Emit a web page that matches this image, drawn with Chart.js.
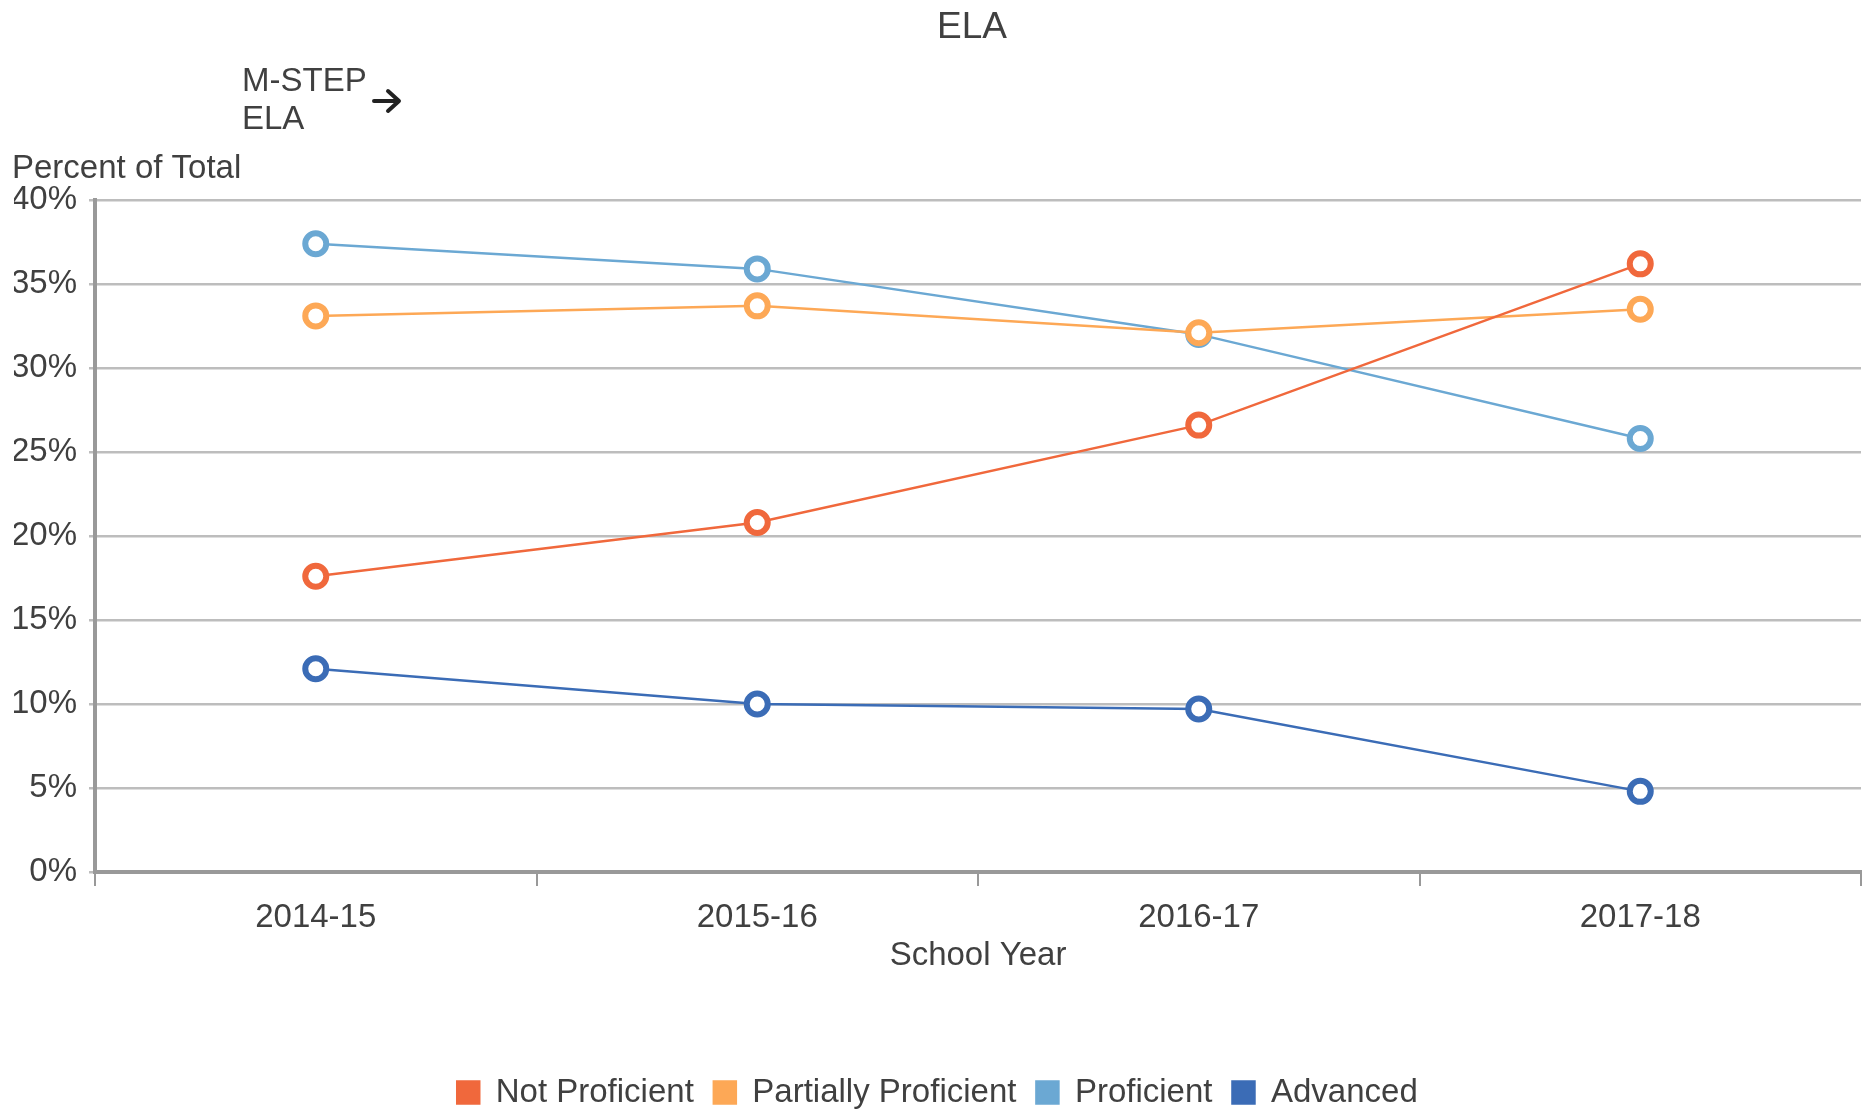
<!DOCTYPE html>
<html>
<head>
<meta charset="utf-8">
<title>ELA</title>
<script src="https://cdn.jsdelivr.net/npm/chart.js@4.4.1/dist/chart.umd.min.js"></script>
<style>
  html, body { margin: 0; padding: 0; background: #fff; }
  #wrap { width: 1868px; height: 1110px; }
</style>
</head>
<body>
<div id="wrap"><canvas id="chart" width="1868" height="1110"></canvas></div>
<script>
// values
const years = ['2014-15', '2015-16', '2016-17', '2017-18'];
const notProficient = [17.6, 20.8, 26.6, 36.2];
const partiallyProficient = [33.1, 33.7, 32.1, 33.5];
const proficient = [37.4, 35.9, 32.0, 25.8];
const advanced = [12.1, 10.0, 9.7, 4.8];
const yTicks = [0, 5, 10, 15, 20, 25, 30, 35, 40];

const chartTitle = 'ELA';
const noteLines = ['M-STEP', 'ELA'];
const yTitle = 'Percent of Total';
const xTitle = 'School Year';

const FONT = '"Liberation Sans", Arial, sans-serif';
const TEXT = '#404040';

Chart.defaults.font.family = FONT;
Chart.defaults.font.size = 33;
Chart.defaults.color = TEXT;

function series(label, data, color) {
    return {
        label: label,
        data: data,
        borderColor: color,
        backgroundColor: color,
        borderWidth: 2.5,
        pointRadius: 10.5,
        pointHoverRadius: 10.5,
        pointBorderWidth: 6,
        pointBackgroundColor: '#ffffff',
        pointBorderColor: color,
        tension: 0
    };
}

// title, M-STEP note and the y axis caption
const extraText = {
    id: 'extraText',
    afterDraw(chart) {
        const ctx = chart.ctx;
        const area = chart.chartArea;
        ctx.save();
        ctx.fillStyle = TEXT;
        ctx.textBaseline = 'middle';

        ctx.font = '37px ' + FONT;
        ctx.textAlign = 'center';
        ctx.fillText(chartTitle, (area.left + area.right) / 2 - 6, 28);

        ctx.font = '33px ' + FONT;
        ctx.textAlign = 'left';
        ctx.fillText(noteLines[0], 242, 82);
        ctx.fillText(noteLines[1], 242, 120);
        ctx.fillText(yTitle, 12, area.top - 31);

        // little arrow after the note
        ctx.strokeStyle = '#222';
        ctx.lineWidth = 4;
        ctx.lineCap = 'round';
        ctx.lineJoin = 'round';
        ctx.beginPath();
        ctx.moveTo(374, 101);
        ctx.lineTo(398, 101);
        ctx.moveTo(388, 91);
        ctx.lineTo(399, 101);
        ctx.lineTo(388, 111);
        ctx.stroke();
        ctx.restore();
    }
};

new Chart(document.getElementById('chart'), {
    type: 'line',
    data: {
        labels: years,
        datasets: [
            series('Not Proficient', notProficient, '#F0683C'),
            series('Partially Proficient', partiallyProficient, '#FDA856'),
            series('Proficient', proficient, '#6BA8D3'),
            series('Advanced', advanced, '#3B6CB6')
        ]
    },
    options: {
        responsive: false,
        animation: false,
        devicePixelRatio: 1,
        layout: { autoPadding: false, padding: { top: 200, left: 14, right: 7, bottom: -9 } },
        plugins: {
            title: { display: false },
            tooltip: { enabled: false },
            legend: {
                position: 'bottom',
                labels: {
                    boxWidth: 22,
                    boxHeight: 22,
                    padding: 20,
                    color: TEXT,
                    font: { size: 33 }
                }
            }
        },
        scales: {
            x: {
                offset: true,
                grid: {
                    offset: true,
                    drawOnChartArea: false,
                    drawTicks: true,
                    tickLength: 14,
                    color: '#999',
                    lineWidth: 2
                },
                border: { display: true, color: '#999', width: 4 },
                ticks: { padding: 12, color: TEXT, font: { size: 33 } },
                title: {
                    display: true,
                    text: xTitle,
                    color: TEXT,
                    font: { size: 33 },
                    padding: { top: 0, bottom: 80 }
                },
                afterFit(scale) { scale.height = 184; }
            },
            y: {
                min: yTicks[0],
                max: yTicks[yTicks.length - 1],
                grid: {
                    color: '#bdbdbd',
                    lineWidth: 2.5,
                    tickLength: 6,
                    drawTicks: true
                },
                border: { display: true, color: '#999', width: 4 },
                ticks: {
                    stepSize: yTicks[1] - yTicks[0],
                    padding: 12,
                    color: TEXT,
                    font: { size: 33 },
                    callback: v => v + '%'
                },
                afterFit(scale) { scale.width = 81; }
            }
        }
    },
    plugins: [extraText]
});
</script>
</body>
</html>
